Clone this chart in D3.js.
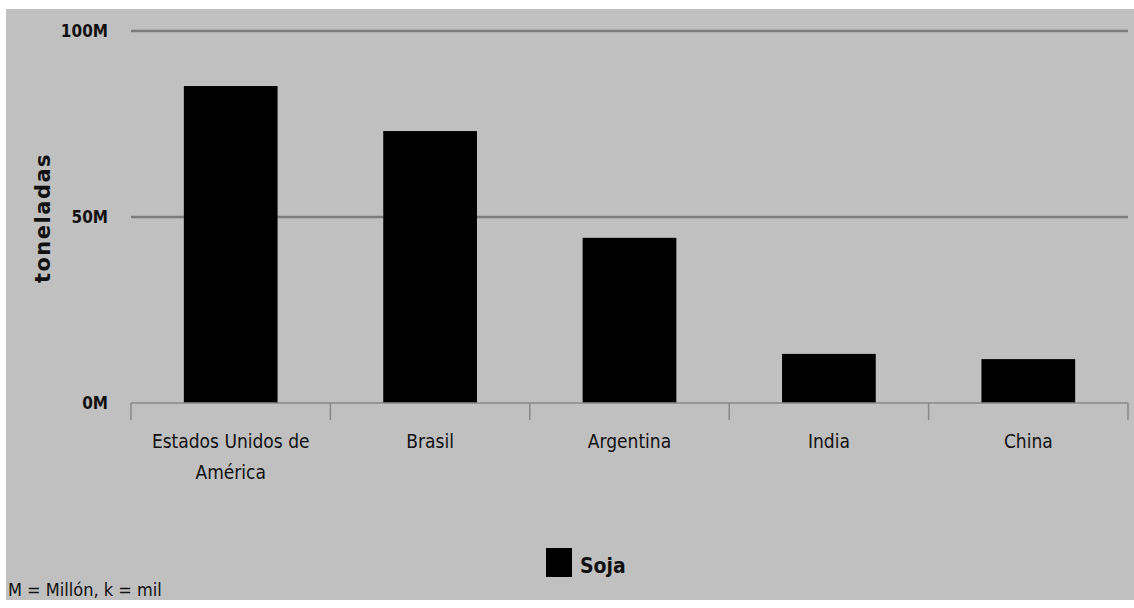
<!DOCTYPE html>
<html lang="es">
<head>
    <meta charset="UTF-8">
    <title>Soja - toneladas</title>
    <script src="https://d3js.org/d3.v7.min.js"></script>
    <style>
        html, body { margin: 0; padding: 0; background: #fff; }
        .lbl { font-family: "DejaVu Sans Condensed", "DejaVu Sans", sans-serif; font-stretch: condensed; fill: #111; }
    </style>
</head>
<body>
    <svg width="1134" height="608"></svg>
    <script>
        const countries = ["Estados Unidos de América", "Brasil", "Argentina", "India", "China"];
        const tickLines = [["Estados Unidos de", "América"], ["Brasil"], ["Argentina"], ["India"], ["China"]];
        const soja = [85.2e6, 73.1e6, 44.4e6, 13.2e6, 11.8e6];
        const yTicks = [0, 50e6, 100e6];
        const yTickLabels = ["0M", "50M", "100M"];

        const svg = d3.select("svg");
        svg.append("rect").attr("x", 6).attr("y", 9).attr("width", 1128).attr("height", 591).attr("fill", "#c0c0c0");

        const plotL = 131, plotR = 1128, plotT = 31, plotB = 403;
        const x = d3.scaleBand().domain(countries).range([plotL, plotR]).padding(0);
        const y = d3.scaleLinear().domain([0, 100e6]).range([plotB, plotT]);

        // gridlines
        svg.selectAll(".grid")
            .data(yTicks.slice(1))
            .enter().append("line")
            .attr("x1", plotL).attr("x2", plotR)
            .attr("y1", d => y(d)).attr("y2", d => y(d))
            .attr("stroke", "#7c7c7c").attr("stroke-width", 2.5);

        // bars
        const bw = x.bandwidth() * 0.47;
        svg.selectAll(".bar")
            .data(countries)
            .enter().append("rect")
            .attr("x", d => x(d) + (x.bandwidth() - bw) / 2)
            .attr("y", (d, i) => y(soja[i]))
            .attr("width", bw)
            .attr("height", (d, i) => y(0) - y(soja[i]))
            .attr("fill", "#000");

        // x axis line + ticks
        svg.append("line").attr("x1", plotL).attr("x2", plotR).attr("y1", y(0)).attr("y2", y(0))
            .attr("stroke", "#888").attr("stroke-width", 1.5);
        const tickPos = countries.map(d => x(d)).concat([plotR]);
        svg.selectAll(".xtick")
            .data(tickPos)
            .enter().append("line")
            .attr("x1", d => d).attr("x2", d => d)
            .attr("y1", y(0)).attr("y2", y(0) + 17)
            .attr("stroke", "#888").attr("stroke-width", 1.5);

        // x labels
        svg.selectAll(".xl")
            .data(countries)
            .enter().append("text")
            .attr("class", "lbl")
            .attr("text-anchor", "middle")
            .attr("font-size", 19)
            .each(function(d, i) {
                const t = d3.select(this);
                tickLines[i].forEach((line, j) => {
                    t.append("tspan")
                        .attr("x", x(d) + x.bandwidth() / 2)
                        .attr("y", 448 + j * 31)
                        .text(line);
                });
            });

        // y tick labels
        svg.selectAll(".yl")
            .data(yTicks)
            .enter().append("text")
            .attr("class", "lbl")
            .attr("x", 108)
            .attr("y", d => y(d) + 6)
            .attr("text-anchor", "end")
            .attr("font-size", 17)
            .attr("font-weight", "bold")
            .text((d, i) => yTickLabels[i]);

        // y axis title
        svg.append("text")
            .attr("transform", "translate(50,218) rotate(-90)")
            .attr("text-anchor", "middle")
            .attr("font-family", "DejaVu Sans, sans-serif")
            .attr("font-weight", "bold")
            .attr("font-size", 21)
            .attr("letter-spacing", 1.5)
            .attr("fill", "#111")
            .text("toneladas");

        // legend
        svg.append("rect").attr("x", 546).attr("y", 548).attr("width", 26).attr("height", 29).attr("fill", "#000");
        svg.append("text").attr("class", "lbl")
            .attr("x", 580).attr("y", 573)
            .attr("font-size", 21).attr("font-weight", "bold")
            .text("Soja");

        // footnote
        svg.append("text").attr("class", "lbl")
            .attr("x", 8).attr("y", 596)
            .attr("font-size", 18)
            .text("M = Millón, k = mil");
    </script>
</body>
</html>
